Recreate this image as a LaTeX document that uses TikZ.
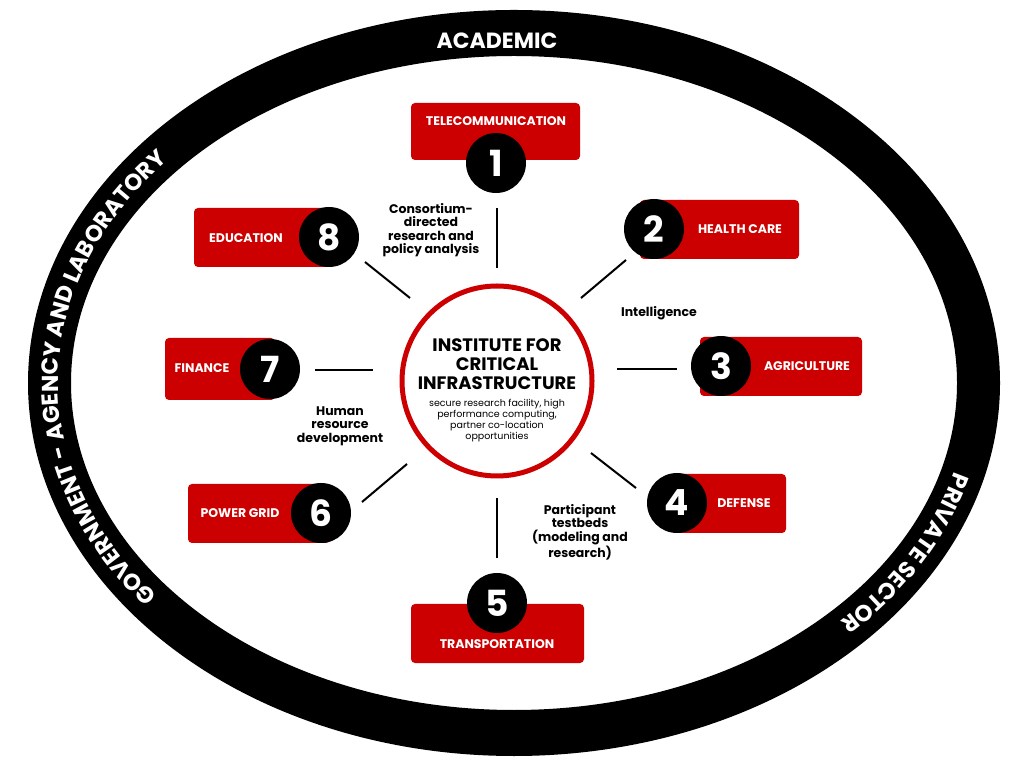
\documentclass[tikz,border=0pt]{standalone}
\usepackage{fontspec}
\setmainfont{Poppins}
\usetikzlibrary{decorations.text}
\definecolor{cred}{HTML}{CC0000}
\begin{document}
\begin{tikzpicture}[x=1pt,y=1pt,
  sbox/.style={fill=cred,rounded corners=4pt},
  btxt/.style={text=white,font=\fontsize{12.5}{14}\selectfont\bfseries},
  num/.style={circle,fill=black,minimum size=60pt,inner sep=0pt,text=white,font=\fontsize{36}{36}\selectfont\bfseries},
  lab/.style={align=center,font=\fontsize{12.5}{13.5}\selectfont\bfseries},
  conn/.style={line width=2pt}]
\useasboundingbox (0,0) rectangle (1024,768);
\fill[white] (0,0) rectangle (1024,768);
% ring
\fill[black,even odd rule] (514,385) ellipse[x radius=486,y radius=373] (514,385) ellipse[x radius=443,y radius=327];
\node[text=white,font=\fontsize{22}{22}\selectfont\bfseries] (acad) at (497,727) {ACADEMIC};
\path[decorate,decoration={text along path,text align=center,text color=white,
 text={|\fontsize{23}{23}\selectfont\bfseries|GOVERNMENT - AGENCY AND LABORATORY}}]
 (514,385) ++(232:456 and 342) arc[start angle=232,end angle=126,x radius=456,y radius=342];
\path[decorate,decoration={text along path,text align=center,text color=white,
 text={|\fontsize{23}{23}\selectfont\bfseries|PRIVATE SECTOR}}]
 (514,385) ++(-6:456 and 342) arc[start angle=-6,end angle=-52,x radius=456,y radius=342];
% center
\node[circle,draw=cred,line width=5pt,fill=white,minimum size=190pt] (c) at (497,387) {};
\node[align=center,font=\fontsize{18}{19}\selectfont\bfseries] (ct) at (497,404) {INSTITUTE FOR\\CRITICAL\\INFRASTRUCTURE};
\node[align=center,font=\fontsize{9.5}{11}\selectfont] (cs) at (497,347) {secure research facility, high\\performance computing,\\partner co-location\\opportunities};
% boxes
\path[sbox] (411,608) rectangle (580,665); \node[btxt] (b1) at (496,647) {TELECOMMUNICATION};
\node[num] (n1) at (496,605) {1};
\path[sbox] (640,509) rectangle (799,568); \node[btxt] (b2) at (740,539) {HEALTH CARE};
\node[num] (n2) at (654,539) {2};
\path[sbox] (700,372) rectangle (862,431); \node[btxt] (b3) at (807,402) {AGRICULTURE};
\node[num] (n3) at (721,402) {3};
\path[sbox] (672,235) rectangle (786,294); \node[btxt] (b4) at (744,265) {DEFENSE};
\node[num] (n4) at (677,265) {4};
\path[sbox] (411,105) rectangle (584,164); \node[btxt] (b5) at (497,124) {TRANSPORTATION};
\node[num] (n5) at (497,165) {5};
\path[sbox] (188,225) rectangle (330,284); \node[btxt] (b6) at (240,255) {POWER GRID};
\node[num] (n6) at (321,255) {6};
\path[sbox] (165,368) rectangle (275,430); \node[btxt] (b7) at (202,400) {FINANCE};
\node[num] (n7) at (270,399) {7};
\path[sbox] (194,501) rectangle (330,560); \node[btxt] (b8) at (246,530) {EDUCATION};
\node[num] (n8) at (329,531) {8};
% connectors
\coordinate (a1) at (497,560); \coordinate (a2) at (497,500);
\coordinate (b1a) at (581,470); \coordinate (b2a) at (626,508);
\coordinate (c1) at (617,399); \coordinate (c2) at (677,399);
\coordinate (d1) at (591,315); \coordinate (d2) at (636,280);
\coordinate (e1) at (497,270); \coordinate (e2) at (497,210);
\coordinate (f1) at (407,304); \coordinate (f2) at (362,266);
\coordinate (g1) at (315,398); \coordinate (g2) at (373,398);
\coordinate (h1) at (365,506); \coordinate (h2) at (410,470);
\draw[conn] (a1)--(a2); \draw[conn] (b1a)--(b2a); \draw[conn] (c1)--(c2); \draw[conn] (d1)--(d2);
\draw[conn] (e1)--(e2); \draw[conn] (f1)--(f2); \draw[conn] (g1)--(g2); \draw[conn] (h1)--(h2);
% labels
\node[lab] (l1) at (431,538) {Consortium-\\directed\\research and\\policy analysis};
\node[lab] (l2) at (659,455) {Intelligence};
\node[lab] (l3) at (340,342) {Human\\resource\\development};
\node[lab] (l4) at (580,236) {Participant\\testbeds\\(modeling and\\research)};
\end{tikzpicture}
\end{document}
